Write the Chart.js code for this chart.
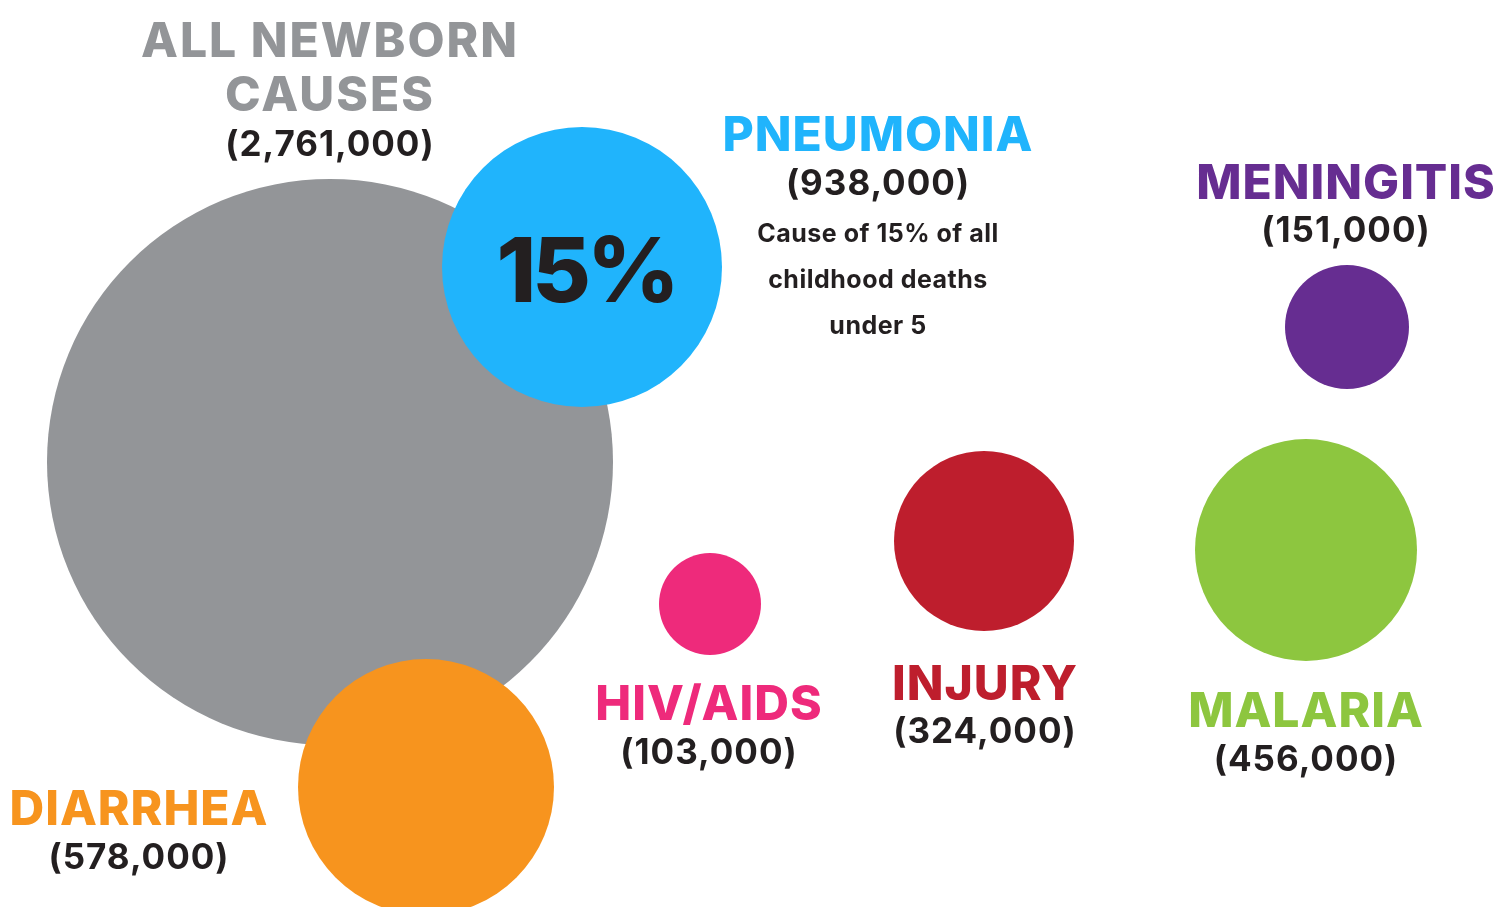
<!DOCTYPE html>
<html>
<head>
<meta charset="utf-8">
<title>Child deaths by cause</title>
<script src="https://cdn.jsdelivr.net/npm/chart.js@4.4.1/dist/chart.umd.min.js"></script>
<style>
  html, body { margin: 0; padding: 0; background: #ffffff; }
  #wrap { width: 1509px; height: 907px; position: relative; }
</style>
</head>
<body>
<div id="wrap"><canvas id="bubbleChart"></canvas></div>
<script>
// causes of death and counts
var causes = ["ALL NEWBORN CAUSES", "PNEUMONIA", "DIARRHEA", "HIV/AIDS", "INJURY", "MALARIA", "MENINGITIS"];
var deaths = [2761000, 938000, 578000, 103000, 324000, 456000, 151000];
var valueLabels = ["(2,761,000)", "(938,000)", "(578,000)", "(103,000)", "(324,000)", "(456,000)", "(151,000)"];
var pneumoniaShare = "15%";
var pneumoniaNote = ["Cause of 15% of all", "childhood deaths", "under 5"];

// layout (chart units = pixels of the 1509x907 page)
var posX = [330, 582, 426, 710, 984, 1306, 1347];
var posY = [462, 267, 787, 604, 541, 550, 327];
var radius = [283, 140, 128, 51, 90, 111, 62];
var colors = ["#939598", "#20b4fc", "#f7941e", "#ee2a7b", "#be1e2d", "#8dc63f", "#662d91"];

// where each label block sits: x centre, baseline of name lines, baseline of value
var labelX = [330, 878, 139, 709, 985, 1306, 1346];
var nameBase = [[57, 111], [151], [825], [720], [700], [727], [199]];
var valueBase = [156, 195, 869, 764, 743, 771, 242];
var nameLines = [["ALL NEWBORN", "CAUSES"], ["PNEUMONIA"], ["DIARRHEA"], ["HIV/AIDS"], ["INJURY"], ["MALARIA"], ["MENINGITIS"]];

var FONT = "Inter, 'Noto Sans', sans-serif";
var DARK = "#231f20";

var bubbleData = [];
for (var i = 0; i < causes.length; i++) {
  bubbleData.push({ x: posX[i], y: posY[i], r: radius[i], v: deaths[i] });
}

var labelPlugin = {
  id: "bubbleLabels",
  afterDatasetsDraw: function (chart) {
    var ctx = chart.ctx;
    var sx = chart.scales.x, sy = chart.scales.y;
    ctx.save();
    ctx.textAlign = "center";
    ctx.textBaseline = "alphabetic";
    for (var i = 0; i < causes.length; i++) {
      var cx = sx.getPixelForValue(labelX[i]);
      ctx.fillStyle = i == 0 ? "#939598" : colors[i];
      ctx.font = "800 48px " + FONT;
      ctx.letterSpacing = i == 0 ? "2px" : "1px";
      for (var j = 0; j < nameLines[i].length; j++) {
        ctx.fillText(nameLines[i][j], cx, sy.getPixelForValue(nameBase[i][j]));
      }
      ctx.fillStyle = DARK;
      ctx.font = "700 35px " + FONT;
      ctx.letterSpacing = "1px";
      ctx.fillText(valueLabels[i], cx, sy.getPixelForValue(valueBase[i]));
    }
    // big share inside pneumonia bubble
    var pn = chart.getDatasetMeta(0).data[1];
    ctx.fillStyle = DARK;
    ctx.font = "800 90px " + FONT;
    ctx.letterSpacing = "-4px";
    ctx.fillText(pneumoniaShare, pn.x + 4, pn.y + 35);
    // note under pneumonia
    ctx.font = "700 25px " + FONT;
    ctx.letterSpacing = "0.5px";
    for (var k = 0; k < pneumoniaNote.length; k++) {
      ctx.fillText(pneumoniaNote[k], sx.getPixelForValue(labelX[1]), sy.getPixelForValue(242 + k * 46));
    }
    ctx.restore();
  }
};

var chartDiv = document.getElementById("bubbleChart");
var myChart = new Chart(chartDiv, {
  type: "bubble",
  data: {
    labels: causes,
    datasets: [{
      data: bubbleData,
      backgroundColor: colors,
      borderWidth: 0,
      hoverRadius: 0,
      clip: false
    }]
  },
  options: {
    responsive: true,
    maintainAspectRatio: false,
    animation: false,
    events: [],
    layout: { padding: 0, autoPadding: false },
    plugins: { legend: { display: false }, tooltip: { enabled: false } },
    scales: {
      x: { type: "linear", min: 0, max: 1509, display: false },
      y: { type: "linear", min: 0, max: 907, reverse: true, display: false }
    }
  },
  plugins: [labelPlugin]
});
</script>
</body>
</html>
